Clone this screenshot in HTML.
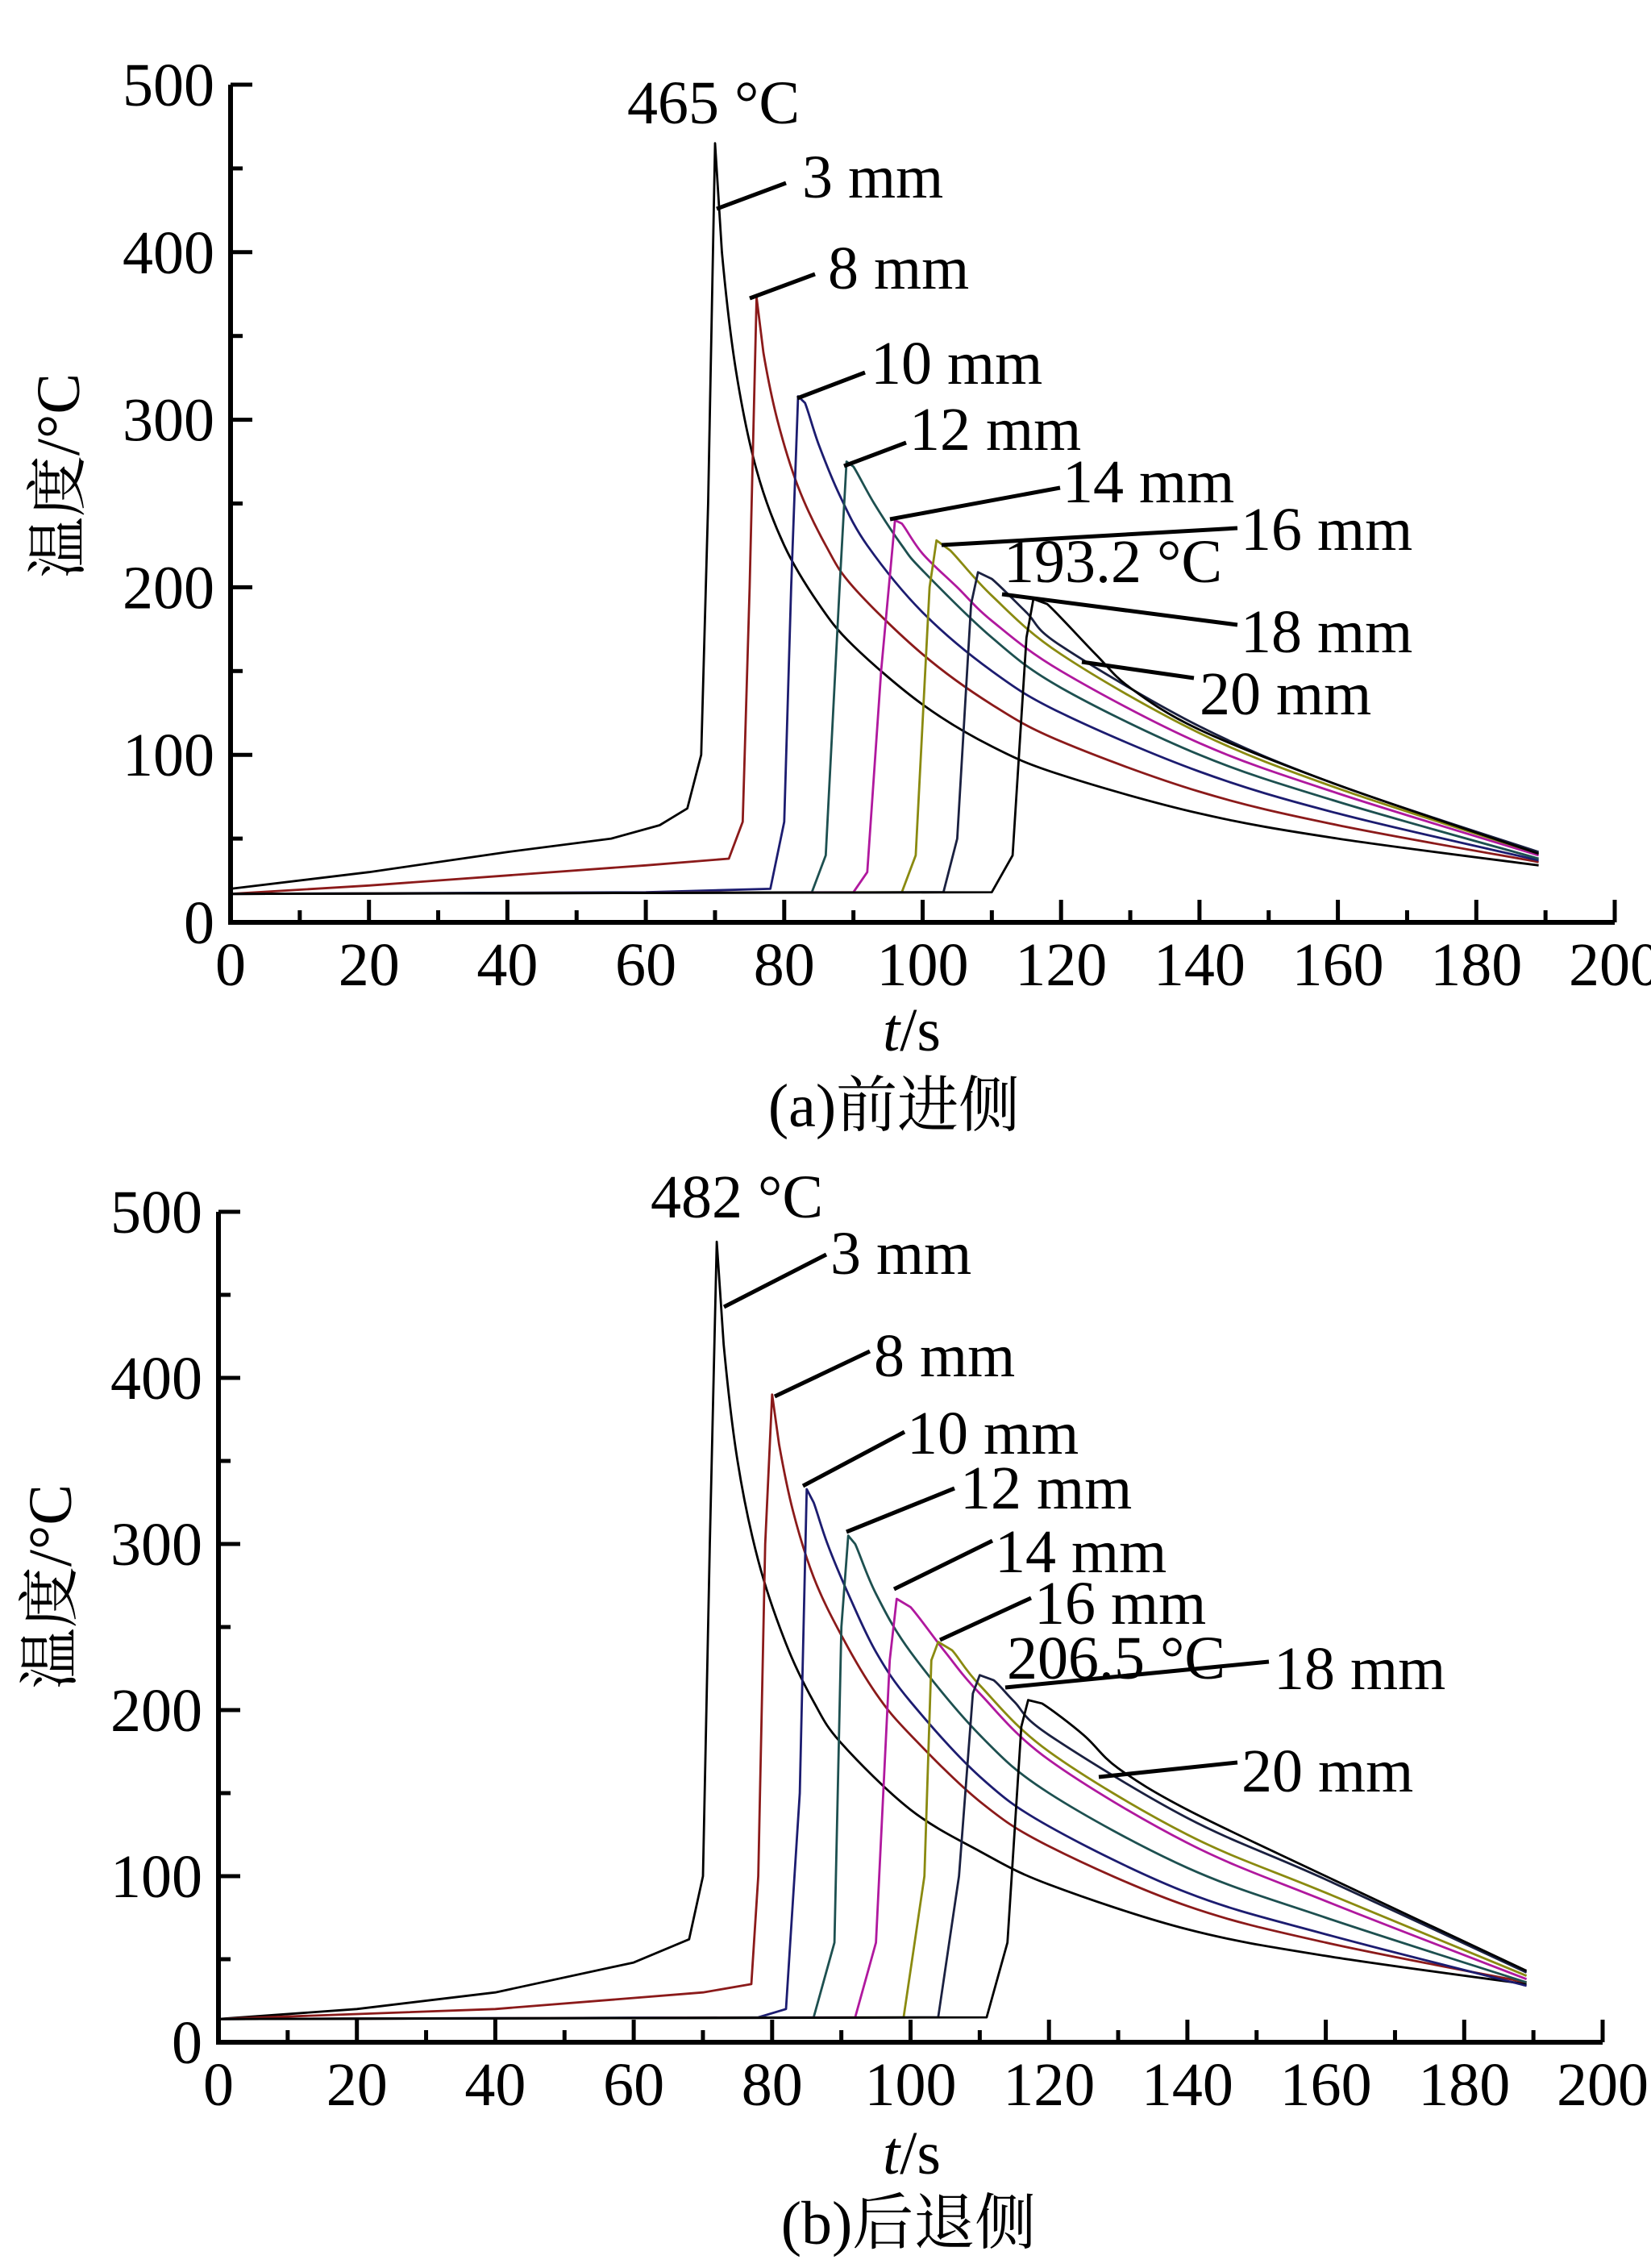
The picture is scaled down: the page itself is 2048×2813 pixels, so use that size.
<!DOCTYPE html>
<html><head><meta charset="utf-8"><style>
body{margin:0;background:#fff}
svg{display:block}
text{font-family:"Liberation Serif","Noto Serif CJK SC","Noto Sans CJK SC",serif;fill:#000}
</style></head><body>
<svg id="chart" width="2048" height="2813" viewBox="0 0 2048 2813" xmlns="http://www.w3.org/2000/svg"></svg>
<script>
const seriesNames=["3 mm","8 mm","10 mm","12 mm","14 mm","16 mm","18 mm","20 mm"];
const seriesColors=["#000","#8b1a1a","#1c1c70","#1d5050","#b0189e","#8a8a10","#1a2040","#000"];
const xTicks=[0,20,40,60,80,100,120,140,160,180,200];
const yTicks=[0,100,200,300,400,500];
// panel (a) 前进侧: times and temperatures per series
const aT=[
[0,20,40,55,62,66,68,69,70,71,73,76,80,85,90,100,110,120,140,160,189],
[0,20,40,60,72,74,75,76,77,79,82,86,90,100,110,120,140,160,189],
[0,60,78,80,81,82,83,85,88,92,100,110,120,140,160,189],
[0,84,86,88,89,90,93,97,100,110,120,140,160,189],
[0,90,92,94,96,97,100,105,110,120,140,160,189],
[0,97,99,101,102,104,110,120,140,160,189],
[0,103,105,107,108,110,115,120,140,160,189],
[0,110,113,115,116,118,125,130,140,160,189]];
const aV=[
[20,30,42,50,58,68,100,250,465,400,330,270,225,190,165,130,105,88,65,50,34],
[17,22,28,34,38,60,200,373,340,300,260,225,200,160,130,108,78,58,36],
[17,18,20,60,200,314,310,285,255,225,185,150,125,90,65,37],
[17,18,40,200,275,272,250,225,210,170,140,100,72,38],
[17,18,30,150,240,238,220,200,180,150,107,77,40],
[17,18,40,200,228,222,195,160,113,80,41],
[17,18,50,190,209,205,185,165,117,82,42],
[17,18,40,170,193,190,160,140,115,82,41]];
// panel (b) 后退侧
const bT=[
[0,20,40,60,68,70,71,72,73,75,78,82,86,90,100,110,120,140,160,189],
[0,40,70,77,78,79,80,81,83,86,90,95,100,110,120,140,160,189],
[0,78,82,84,85,86,88,91,95,100,110,120,140,160,189],
[0,86,89,90,91,92,95,100,110,120,140,160,189],
[0,92,95,97,98,100,105,110,120,140,160,189],
[0,99,102,103,104,106,110,120,140,160,189],
[0,104,107,109,110,112,115,120,140,160,189],
[0,111,114,116,117,119,125,130,140,160,189]];
const bV=[
[14,20,30,48,62,100,300,482,420,350,290,240,205,180,140,115,95,68,52,35],
[14,20,30,35,100,300,390,360,320,280,245,210,185,145,118,82,60,36],
[14,15,20,150,333,325,300,270,235,205,160,130,90,65,34],
[14,15,60,250,305,300,270,235,185,150,105,75,36],
[14,15,60,230,267,262,235,210,170,120,85,38],
[14,15,100,230,241,236,215,175,125,90,40],
[14,15,100,210,221,218,205,185,135,98,42],
[14,15,60,190,206,204,185,165,140,100,43]];
const NS="http://www.w3.org/2000/svg";
const svg=document.getElementById('chart');
function el(tag,attrs,txt){const e=document.createElementNS(NS,tag);for(const k in attrs)e.setAttribute(k,attrs[k]);if(txt!==undefined)e.textContent=txt;svg.appendChild(e);return e;}
function pathFor(pts,pk){
  // straight up to peak, Catmull-Rom smoothing after peak
  let d='M'+pts[0][0].toFixed(1)+' '+pts[0][1].toFixed(1);
  for(let j=1;j<pts.length;j++){
    if(j<=pk+1){d+=' L'+pts[j][0].toFixed(1)+' '+pts[j][1].toFixed(1);continue;}
    const p0=pts[j-2],p1=pts[j-1],p2=pts[j],p3=pts[j+1]||pts[j];
    const c1=[p1[0]+(p2[0]-p0[0])/6,p1[1]+(p2[1]-p0[1])/6];
    const c2=[p2[0]-(p3[0]-p1[0])/6,p2[1]-(p3[1]-p1[1])/6];
    d+=` C${c1[0].toFixed(1)} ${c1[1].toFixed(1)} ${c2[0].toFixed(1)} ${c2[1].toFixed(1)} ${p2[0].toFixed(1)} ${p2[1].toFixed(1)}`;
  }
  return d;
}
function panel(P,T,V,ann,pre){
  const sx=t=>P.x0+(P.x200-P.x0)*t/200, sy=v=>P.y0-(P.y0-P.y500)*v/500;
  for(let i=0;i<T.length;i++){
    const pts=T[i].map((t,j)=>[sx(t),sy(V[i][j])]);
    let pk=0;V[i].forEach((v,j)=>{if(v>V[i][pk])pk=j;});
    const p=el('path',{d:pathFor(pts,pk),fill:'none',stroke:seriesColors[i],'stroke-width':2.8,'stroke-linejoin':'round'});
    
    
  }
  const ax=el('path',{d:`M${P.x0} ${P.y500} V${P.y0} H${sx(200)}`,fill:'none',stroke:'#000','stroke-width':6});
  
  
  for(let t=0;t<=200;t+=10){
    const maj=t%20===0;
    const tk=el('line',{x1:sx(t),x2:sx(t),y1:P.y0,y2:P.y0-(maj?28:15),stroke:'#000','stroke-width':5});
    
    
  }
  xTicks.forEach(t=>{const lb=el('text',{x:sx(t),y:P.y0+78,'font-size':76,'text-anchor':'middle'},String(t));
    
    });
  for(let v=0;v<=500;v+=50){
    const maj=v%100===0;
    const tk=el('line',{x1:P.x0,x2:P.x0+(maj?27:15),y1:sy(v),y2:sy(v),stroke:'#000','stroke-width':5});
    
    
  }
  yTicks.forEach(v=>{const lb=el('text',{x:P.x0-20,y:sy(v)+26,'font-size':76,'text-anchor':'end'},String(v));
    
    });
  ann.forEach(a=>{
    if(a.l){const ln=el('line',{x1:a.l[0],y1:a.l[1],x2:a.l[2],y2:a.l[3],stroke:'#000','stroke-width':5});
      
      }
    const tx=el('text',{x:a.x,y:a.y,'font-size':76},a.s);
    
    
  });
}
panel({x0:286,x200:2003,y0:1144,y500:105},aT,aV,[
 {s:'465 °C',x:778,y:153},
 {s:'3 mm',x:995,y:245,l:[889,259,975,227]},
 {s:'8 mm',x:1027,y:358,l:[930,370,1011,340]},
 {s:'10 mm',x:1080,y:476,l:[989,494,1073,462]},
 {s:'12 mm',x:1128,y:558,l:[1047,578,1124,549]},
 {s:'14 mm',x:1318,y:623,l:[1104,644,1315,605]},
 {s:'16 mm',x:1539,y:682,l:[1168,676,1535,655]},
 {s:'193.2 °C',x:1245,y:722},
 {s:'18 mm',x:1539,y:809,l:[1243,737,1535,775]},
 {s:'20 mm',x:1488,y:886,l:[1342,821,1481,841]}],'a');
panel({x0:271,x200:1988,y0:2533,y500:1503},bT,bV,[
 {s:'482 °C',x:807,y:1510},
 {s:'3 mm',x:1030,y:1580,l:[898,1621,1025,1556]},
 {s:'8 mm',x:1084,y:1707,l:[961,1732,1079,1676]},
 {s:'10 mm',x:1125,y:1803,l:[996,1843,1122,1776]},
 {s:'12 mm',x:1191,y:1871,l:[1050,1900,1184,1846]},
 {s:'14 mm',x:1234,y:1950,l:[1109,1971,1231,1911]},
 {s:'16 mm',x:1283,y:2014,l:[1166,2034,1279,1982]},
 {s:'206.5 °C',x:1249,y:2082},
 {s:'18 mm',x:1580,y:2095,l:[1247,2093,1574,2061]},
 {s:'20 mm',x:1540,y:2222,l:[1363,2204,1535,2186]}],'b');
</script>
<svg style="position:absolute;left:0;top:0" width="2048" height="2813" xmlns="http://www.w3.org/2000/svg">
<text transform="translate(98,590) rotate(-90)" font-size="76" text-anchor="middle">温度/°C</text>
<text x="1131" y="1303" font-size="76" text-anchor="middle"><tspan font-style="italic">t</tspan>/s</text>
<text x="1109" y="1397" font-size="76" text-anchor="middle">(a)前进侧</text>
<text transform="translate(88,1968) rotate(-90)" font-size="76" text-anchor="middle">温度/°C</text>
<text x="1131" y="2696" font-size="76" text-anchor="middle"><tspan font-style="italic">t</tspan>/s</text>
<text x="1127" y="2783" font-size="76" text-anchor="middle">(b)后退侧</text>
</svg>
</body></html>
